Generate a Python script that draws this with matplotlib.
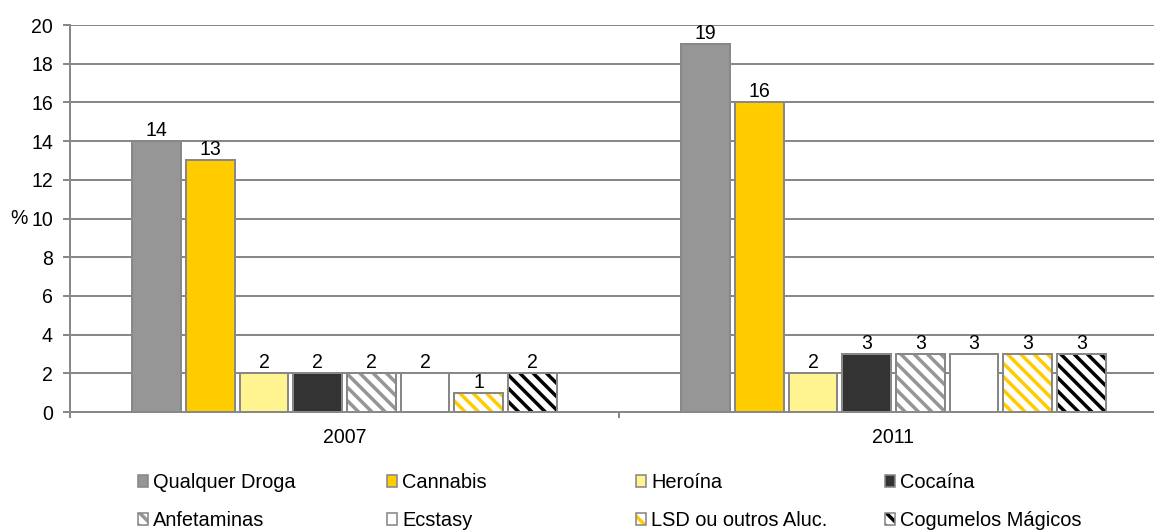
import numpy as np
import matplotlib
matplotlib.use('Agg')
import matplotlib.pyplot as plt
from matplotlib.patches import Patch

# --- CONFIG
DPI = 80            # hatch spacing is tied to dpi, 80 + '\\\\' gives ~13px stripes
W, H = 1154, 532


def pt(px):
    # pixel size -> points at this dpi
    return px * 72.0 / DPI


plt.rcParams['font.family'] = ['Liberation Sans', 'DejaVu Sans']
plt.rcParams['hatch.linewidth'] = pt(3.5)
FS = pt(19.5)

# --- DATA
years = ['2007', '2011']
drugs = ['Qualquer Droga', 'Cannabis', 'Heroína', 'Cocaína',
         'Anfetaminas', 'Ecstasy', 'LSD ou outros Aluc.', 'Cogumelos Mágicos']
v2007 = [14, 13, 2, 2, 2, 2, 1, 2]
v2011 = [19, 16, 2, 3, 3, 3, 3, 3]

# --- STYLE (face colour, hatch colour or None)
faces = ['#969696', '#ffcc00', '#fff48f', '#333333',
         'white', 'white', 'white', 'white']
hatch_cols = [None, None, None, None, '#969696', None, '#ffcc00', 'black']
EDGE = '#888888'
HATCH = '\\\\'

fig = plt.figure(figsize=(W / DPI, H / DPI), dpi=DPI)
ax = fig.add_axes([70 / W, 120 / H, 1098 / W, 387 / H])

vals = np.array([v2007, v2011])  # (year, drug)
xc = np.arange(len(years))
step = 0.0977
width = 0.089

handles = []
for i, d in enumerate(drugs):
    xs = xc + (i - 3.5) * step
    hatched = hatch_cols[i] is not None
    if hatched:
        ax.bar(xs, vals[:, i], width, color='white', edgecolor=hatch_cols[i],
               hatch=HATCH, linewidth=0, zorder=3)
    outline = ax.bar(xs, vals[:, i], width,
                     facecolor='none' if hatched else faces[i],
                     edgecolor=EDGE, linewidth=pt(2), zorder=4)
    ax.bar_label(outline, labels=[str(v) for v in vals[:, i]], padding=pt(1),
                 fontsize=FS, zorder=5)
    outl = Patch(facecolor='none' if hatched else faces[i],
                 edgecolor=EDGE, linewidth=pt(1.6))
    if hatched:
        hp = Patch(facecolor='white', edgecolor=hatch_cols[i], hatch=HATCH,
                   linewidth=0)
        handles.append((hp, outl))
    else:
        handles.append(outl)

# --- AXES
ax.set_ylim(0, 20)
ax.set_yticks(np.arange(0, 21, 2))
ax.set_xlim(-0.5, 1.5)
ax.set_xticks([-0.5, 0.5, 1.5])
ax.set_xticklabels([])
ax.set_xticks(xc, minor=True)
ax.set_xticklabels(years, minor=True)
ax.tick_params(axis='x', which='minor', length=0, pad=pt(16), labelsize=FS)
ax.tick_params(axis='x', which='major', length=pt(6), color=EDGE, width=pt(2))
ax.tick_params(axis='y', length=pt(7), color=EDGE, width=pt(2),
               labelsize=FS, pad=pt(10))
ax.grid(axis='y', color=EDGE, linewidth=pt(2), zorder=0)
ax.set_axisbelow(True)
for s in ['top', 'right']:
    ax.spines[s].set_visible(False)
for s in ['left', 'bottom']:
    ax.spines[s].set_color(EDGE)
    ax.spines[s].set_linewidth(pt(2))
ax.set_ylabel('%', rotation=0, fontsize=FS, va='center', ha='center')
ax.yaxis.set_label_coords((19 - 70) / 1098, (412 - 219) / 387)

# --- LEGEND (4 columns x 2 rows, evenly spaced like the original)
col_x = [138, 387, 636, 885]
for c in range(4):
    fig.legend(handles=[handles[c], handles[c + 4]],
               labels=[drugs[c], drugs[c + 4]],
               loc='upper left', bbox_to_anchor=(col_x[c] / W, (H - 473) / H),
               frameon=False, fontsize=pt(20), borderpad=0, borderaxespad=0,
               handlelength=0.5, handleheight=0.5, handletextpad=0.25,
               labelspacing=0.95)

fig.savefig('out.png', dpi=DPI)
